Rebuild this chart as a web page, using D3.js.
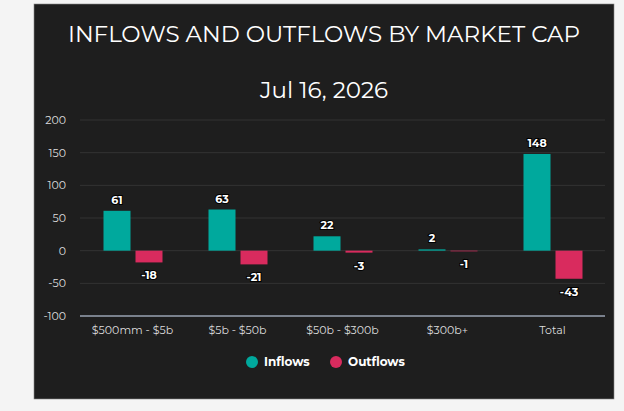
<!DOCTYPE html>
<html><head><meta charset="utf-8">
<script src="https://cdn.jsdelivr.net/npm/d3@7"></script>
<style>body{margin:0;background:#f4f4f4;font-family:Montserrat,"Open Sans",sans-serif}</style>
</head><body><div id="chart"></div>
<script>
const categories = ["$500mm - $5b", "$5b - $50b", "$50b - $300b", "$300b+", "Total"];
const inflows = [61, 63, 22, 2, 148];
const outflows = [-18, -21, -3, -1, -43];
const yTicks = [200, 150, 100, 50, 0, -50, -100];

const svg = d3.select("#chart").append("svg").attr("width", 624).attr("height", 411);
svg.append("rect").attr("x", 34).attr("y", 4).attr("width", 580).attr("height", 395)
    .attr("fill", "#1e1e1e").attr("stroke", "#888").attr("stroke-width", 0.6);

svg.append("text").attr("x", 324).attr("y", 42).attr("text-anchor", "middle")
    .attr("fill", "#fff").style("font-size", "23px").text("INFLOWS AND OUTFLOWS BY MARKET CAP");
svg.append("text").attr("x", 324).attr("y", 98).attr("text-anchor", "middle")
    .attr("fill", "#fff").style("font-size", "23px").text("Jul 16, 2026");

const x0 = d3.scaleBand().domain(categories).range([80, 605]);
const y = d3.scaleLinear().domain([-100, 200]).range([316, 120]);

// gridlines
svg.append("g").selectAll("line").data(yTicks.filter(d => d > -100)).enter().append("line")
    .attr("x1", 80).attr("x2", 605).attr("y1", d => y(d)).attr("y2", d => y(d))
    .attr("stroke", "#333").attr("stroke-width", 1);
svg.append("line").attr("x1", 80).attr("x2", 605).attr("y1", y(-100)).attr("y2", y(-100))
    .attr("stroke", "#9aa3b3").attr("stroke-width", 1.5);

svg.append("g").selectAll("text").data(yTicks).enter().append("text")
    .attr("x", 66).attr("y", d => y(d) + 4).attr("text-anchor", "end")
    .attr("fill", "#ddd").style("font-size", "11px").text(d => d);

svg.append("g").selectAll("text").data(categories).enter().append("text")
    .attr("x", d => x0(d) + x0.bandwidth() / 2).attr("y", 334).attr("text-anchor", "middle")
    .attr("fill", "#ddd").style("font-size", "11px").text(d => d);

const bw = 27;
const data = categories.map((c, i) => ({c, inf: inflows[i], out: outflows[i]}));
const g = svg.append("g").selectAll("g").data(data).enter().append("g")
    .attr("transform", d => `translate(${x0(d.c) + x0.bandwidth() / 2},0)`);

g.append("rect").attr("x", -29).attr("width", bw)
    .attr("y", d => y(d.inf)).attr("height", d => y(0) - y(d.inf)).attr("fill", "#00a99d");
g.append("rect").attr("x", 3).attr("width", bw)
    .attr("y", y(0)).attr("height", d => y(d.out) - y(0)).attr("fill", "#d92b5e");

const lbl = s => s.attr("text-anchor", "middle").attr("fill", "#fff").attr("stroke", "#000")
    .attr("stroke-width", 2).attr("paint-order", "stroke")
    .style("font-size", "11px").style("font-weight", "bold");
g.append("text").attr("x", -15.5).attr("y", d => y(d.inf) - 7).text(d => d.inf).call(lbl);
g.append("text").attr("x", 16.5).attr("y", d => y(d.out) + 17).text(d => d.out).call(lbl);

// legend
const legend = [["Inflows", "#00a99d", 252], ["Outflows", "#d92b5e", 336]];
legend.forEach(([t, c, x]) => {
    svg.append("circle").attr("cx", x).attr("cy", 362).attr("r", 6).attr("fill", c);
    svg.append("text").attr("x", x + 12).attr("y", 366).attr("fill", "#fff")
        .style("font-size", "12px").style("font-weight", "bold").text(t);
});
</script></body></html>
